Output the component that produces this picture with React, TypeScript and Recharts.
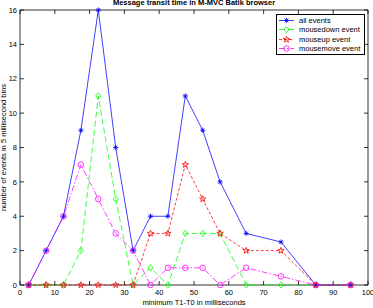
import React from "react";
import { LineChart, Line, XAxis, YAxis, ReferenceArea, Legend } from "recharts";

// bin centres in milliseconds
const binCenters = [2.5, 7.5, 12.5, 17.5, 22.5, 27.5, 32.5, 37.5, 42.5, 47.5, 52.5, 57.5, 65, 75, 85, 95];
const allEvents = [0, 2, 4, 9, 16, 8, 2, 4, 4, 11, 9, 6, 3, 2.5, 0, 0];
const mousedown = [0, 0, 0, 2, 11, 5, 0, 1, 0, 3, 3, 3, 0, 0, 0, 0];
const mouseup = [0, 0, 0, 0, 0, 0, 0, 3, 3, 7, 5, 3, 2, 2, 0, 0];
const mousemove = [0, 2, 4, 7, 5, 3, 2, 0, 1, 1, 1, 0, 1, 0.5, 0, 0];
const xTicks = [0, 10, 20, 30, 40, 50, 60, 70, 80, 90, 100];
const yTicks = [0, 2, 4, 6, 8, 10, 12, 14, 16];

const data = binCenters.map((t, i) => ({
	t,
	all: allEvents[i],
	down: mousedown[i],
	up: mouseup[i],
	move: mousemove[i],
}));

const FONT = '"Liberation Sans", Arial, Helvetica, sans-serif';
const W = 373;
const H = 308;
// plot box
const LEFT = 20;
const RIGHT = 368;
const TOP = 10;
const BOTTOM = 285;
const TICK_LEN = 4;

type MarkerKind = "asterisk" | "diamond" | "star" | "circle";

function marker(kind: MarkerKind, cx: number, cy: number, color: string, key?: string) {
	if (kind === "asterisk") {
		const r = 2.6;
		const d = 1.8;
		return (
			<g key={key} stroke={color} strokeWidth={0.8}>
				<line x1={cx - r} y1={cy} x2={cx + r} y2={cy} />
				<line x1={cx} y1={cy - r} x2={cx} y2={cy + r} />
				<line x1={cx - d} y1={cy - d} x2={cx + d} y2={cy + d} />
				<line x1={cx - d} y1={cy + d} x2={cx + d} y2={cy - d} />
			</g>
		);
	}
	if (kind === "diamond") {
		const pts = `${cx},${cy - 3.2} ${cx + 2.7},${cy} ${cx},${cy + 3.2} ${cx - 2.7},${cy}`;
		return <polygon key={key} points={pts} fill="none" stroke={color} strokeWidth={0.8} />;
	}
	if (kind === "star") {
		const pts: string[] = [];
		for (let k = 0; k < 10; k++) {
			const rr = k % 2 === 0 ? 3.3 : 1.4;
			const a = -Math.PI / 2 + (k * Math.PI) / 5;
			pts.push(`${cx + rr * Math.cos(a)},${cy + rr * Math.sin(a)}`);
		}
		return <polygon key={key} points={pts.join(" ")} fill="none" stroke={color} strokeWidth={0.8} />;
	}
	return <circle key={key} cx={cx} cy={cy} r={2.8} fill="none" stroke={color} strokeWidth={0.8} />;
}

const series = [
	{ key: "all", name: "all events", color: "#0000ff", dash: undefined, kind: "asterisk" as MarkerKind },
	{ key: "down", name: "mousedown event", color: "#00ff00", dash: "6 3", kind: "diamond" as MarkerKind },
	{ key: "up", name: "mouseup event", color: "#ff0000", dash: "3 2", kind: "star" as MarkerKind },
	{ key: "move", name: "mousemove event", color: "#ff00ff", dash: "6 2 1.5 2", kind: "circle" as MarkerKind },
];

function XTick(props: any) {
	const { payload } = props;
	const c = payload.coordinate;
	return (
		<g>
			<line x1={c} y1={BOTTOM} x2={c} y2={BOTTOM - TICK_LEN} stroke="#000" strokeWidth={0.8} />
			<line x1={c} y1={TOP} x2={c} y2={TOP + TICK_LEN} stroke="#000" strokeWidth={0.8} />
			<text x={c} y={BOTTOM + 9.5} textAnchor="middle" fontSize={7.5} fontFamily={FONT} fill="#000">
				{payload.value}
			</text>
		</g>
	);
}

function YTick(props: any) {
	const { payload } = props;
	const c = payload.coordinate;
	return (
		<g>
			<line x1={LEFT} y1={c} x2={LEFT + TICK_LEN} y2={c} stroke="#000" strokeWidth={0.8} />
			<line x1={RIGHT} y1={c} x2={RIGHT - TICK_LEN} y2={c} stroke="#000" strokeWidth={0.8} />
			<text x={LEFT - 3} y={c + 2.7} textAnchor="end" fontSize={7.5} fontFamily={FONT} fill="#000">
				{payload.value}
			</text>
		</g>
	);
}

function LegendBox() {
	return (
		<div
			style={{
				border: "1px solid #000",
				background: "#fff",
				padding: "1px 0 1px 0",
				fontFamily: FONT,
				fontSize: 7.5,
				lineHeight: "9.3px",
				color: "#000",
			}}
		>
			{series.map((s) => (
				<div key={s.key} style={{ display: "flex", alignItems: "center", height: 9.3 }}>
					<svg width={20} height={9} style={{ display: "block" }}>
						<line x1={2} y1={4.5} x2={17} y2={4.5} stroke={s.color} strokeWidth={0.8} strokeDasharray={s.dash} />
						{marker(s.kind, 9.5, 4.5, s.color)}
					</svg>
					<span style={{ marginLeft: 2, whiteSpace: "nowrap" }}>{s.name}</span>
				</div>
			))}
		</div>
	);
}

export default function App() {
	return (
		<div style={{ position: "absolute", left: 0, top: 0, width: W, height: H, background: "#fff" }}>
			<LineChart
				width={W}
				height={H}
				data={data}
				margin={{ top: TOP, right: W - RIGHT, bottom: 0, left: 0 }}
			>
				<XAxis
					dataKey="t"
					type="number"
					domain={[0, 100]}
					ticks={xTicks}
					height={H - BOTTOM}
					axisLine={false}
					tickLine={false}
					tick={<XTick />}
					interval={0}
					label={{
						content: () => (
							<text x={(LEFT + RIGHT) / 2} y={304.5} textAnchor="middle" fontSize={7.5} fontFamily={FONT} fill="#000">
								minimum T1-T0 in milliseconds
							</text>
						),
					}}
				/>
				<YAxis
					type="number"
					domain={[0, 16]}
					ticks={yTicks}
					width={LEFT}
					axisLine={false}
					tickLine={false}
					tick={<YTick />}
					interval={0}
					label={{
						content: () => (
							<text
								x={0}
								y={0}
								transform={`translate(6, ${(TOP + BOTTOM) / 2}) rotate(-90)`}
								textAnchor="middle"
								fontSize={7.5}
								fontFamily={FONT}
								fill="#000"
							>
								number of events in 5 millisecond bins
							</text>
						),
					}}
				/>
				<ReferenceArea x1={0} x2={100} y1={0} y2={16} fill="none" stroke="#000" strokeWidth={0.8} />
				{series.map((s) => (
					<Line
						key={s.key}
						dataKey={s.key}
						name={s.name}
						type="linear"
						stroke={s.color}
						strokeWidth={0.75}
						strokeDasharray={s.dash}
						isAnimationActive={false}
						dot={(p: any) => marker(s.kind, p.cx, p.cy, s.color, `${s.key}-${p.index}`)}
						activeDot={false}
					/>
				))}
				<Legend
					layout="vertical"
					align="center"
					verticalAlign="middle"
					content={<LegendBox />}
					wrapperStyle={{ position: "absolute", left: 276, top: 14, width: 89 }}
				/>
				<text x={(LEFT + RIGHT) / 2} y={5} textAnchor="middle" fontSize={7.5} fontWeight="bold" fontFamily={FONT} fill="#000">
					Message transit time in M-MVC Batik browser
				</text>
			</LineChart>
		</div>
	);
}
